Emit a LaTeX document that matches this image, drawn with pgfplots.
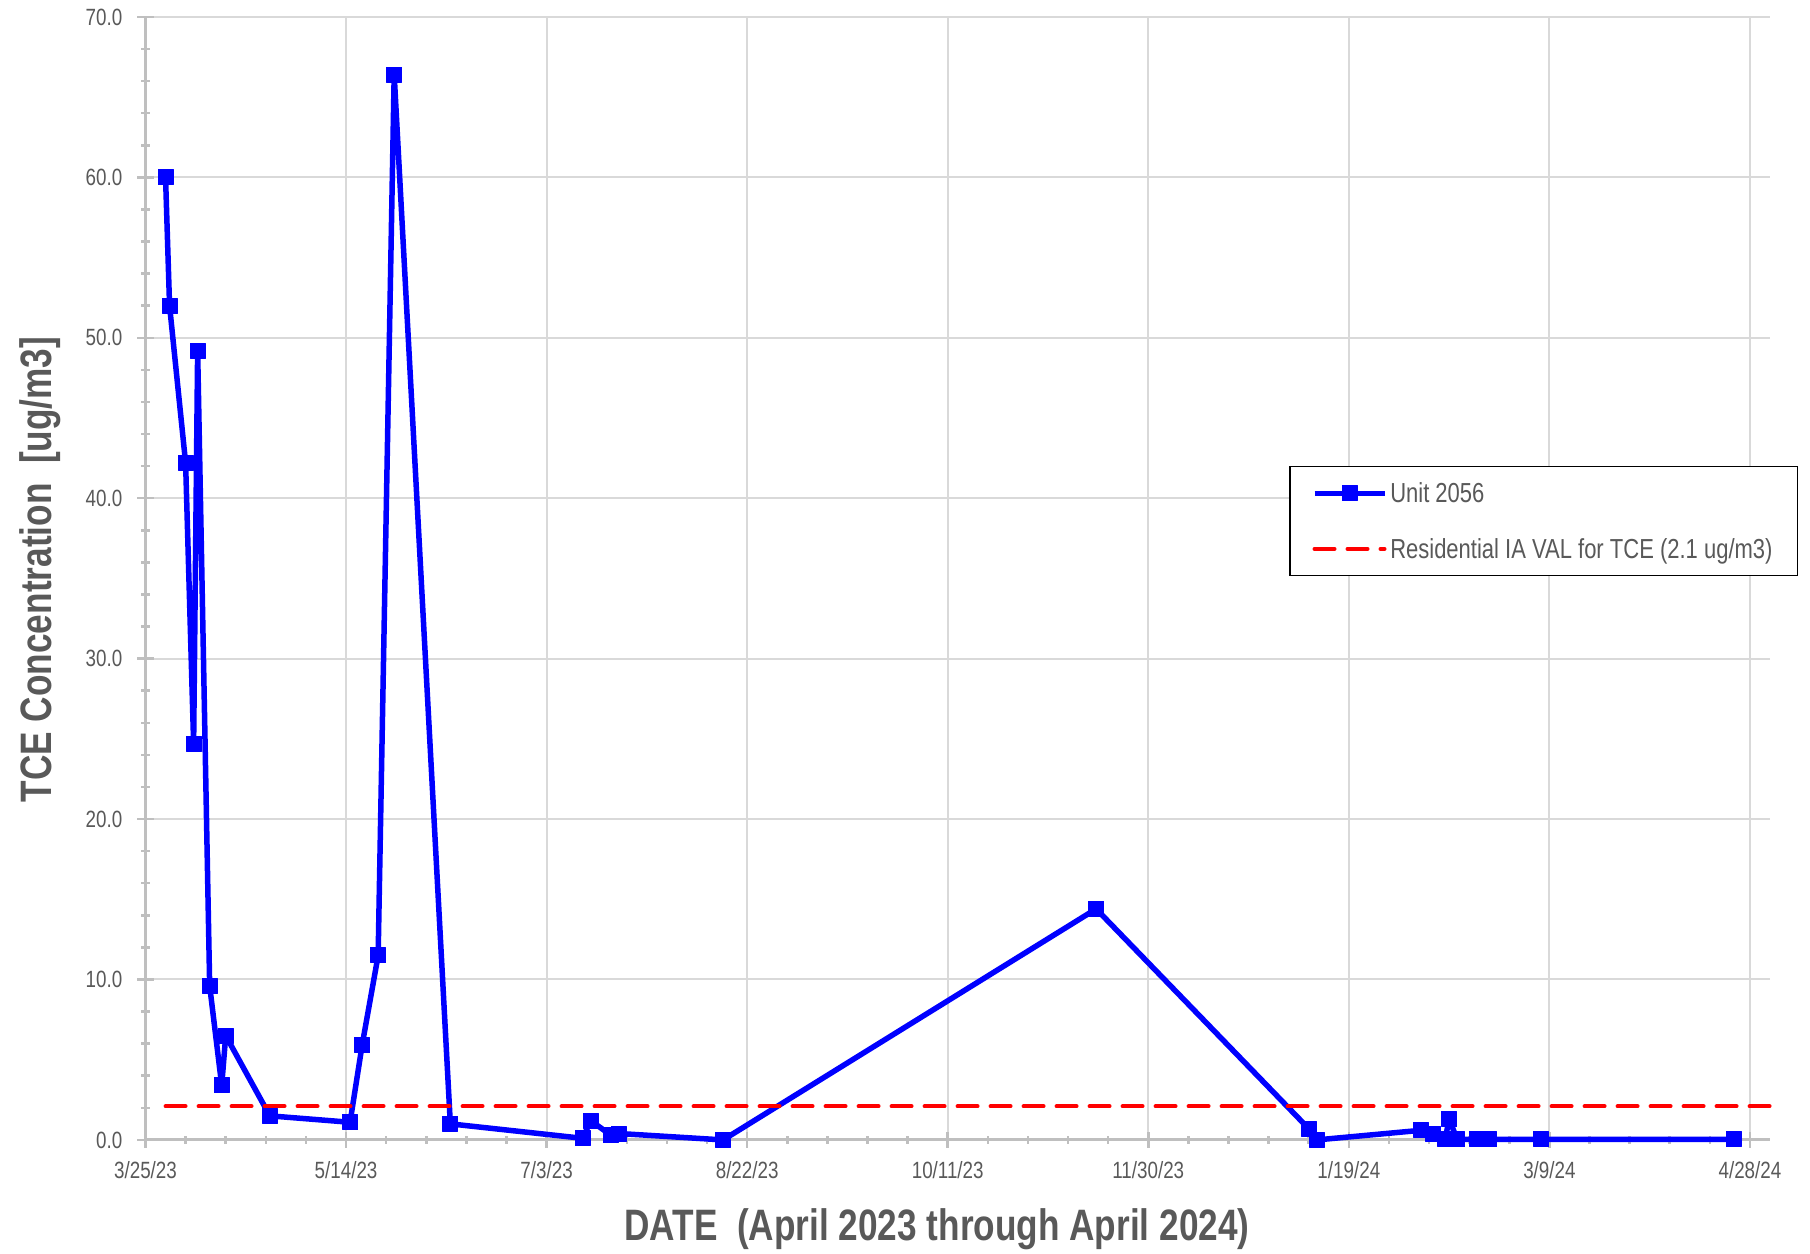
\documentclass[border=0pt]{standalone}
\usepackage{fontspec}
\setmainfont[FakeStretch=0.8]{Liberation Sans}
\usepackage{pgfplots}
\pgfplotsset{compat=1.18}
\definecolor{txt}{HTML}{595959}
\definecolor{axgray}{HTML}{BFBFBF}
\definecolor{gridgray}{HTML}{D9D9D9}

\begin{document}
\begin{tikzpicture}
\begin{axis}[
  name=ax,
  scale only axis, width=1624.5pt, height=1123pt,
  xmin=0, xmax=405, ymin=0, ymax=70,
  clip=false,
  axis x line*=bottom, axis y line*=left,
  axis line style={draw=axgray, line width=3pt, -},
  xtick={0,50,...,400},
  xticklabels={3/25/23,5/14/23,7/3/23,8/22/23,10/11/23,11/30/23,1/19/24,3/9/24,4/28/24},
  ytick={0,10,...,70},
  minor x tick num=4, minor y tick num=4,
  tick align=center, major tick length=16pt, minor tick length=8pt,
  tick style={draw=axgray, line width=2.5pt},
  grid=major, major grid style={draw=gridgray, line width=2pt},
  ticklabel style={font=\fontsize{23.5}{28}\selectfont, text=txt},
  xticklabel style={anchor=base, yshift=-31pt},
  yticklabel style={anchor=east, inner sep=0pt, xshift=-15pt,
    /pgf/number format/.cd, fixed, fixed zerofill, precision=1, assume math mode=true},
  xlabel={DATE\ \ (April 2023 through April 2024)},
  ylabel={TCE Concentration\ \ [ug/m3]},
  xlabel style={at={(rel axis cs:0.4872,-0.0899)}, anchor=base,
    font=\fontsize{44}{50}\selectfont\bfseries, text=txt},
  ylabel style={at={(rel axis cs:-0.0649,0.508)}, anchor=center,
    font=\fontsize{44}{50}\selectfont\bfseries, text=txt},
  legend style={at={(rel axis cs:0.7039,0.6002)}, anchor=north west,
    draw=black, line width=1.5pt, fill=white,
    font=\fontsize{27.5}{33}\selectfont, text=txt,
    inner xsep=22pt, inner ysep=13pt, row sep=28pt,
    nodes={inner sep=3pt}},
  legend cell align=left,
  legend image code/.code={\draw[mark repeat=2,mark phase=2,#1] plot coordinates {(0pt,0pt) (35pt,0pt) (70pt,0pt)};},
]
\addplot[color=blue, line width=5.5pt, line join=round, mark=square*, mark size=7.5pt,
  mark options={solid, line width=1pt}] coordinates {
  (5,60.0) (6,52.0) (10,42.2) (12,24.7) (13,49.2) (16,9.6) (19,3.4) (20,6.5)
  (31,1.5) (51,1.1) (54,5.9) (58,11.5) (62,66.4) (76,1.0)
  (109,0.1) (111,1.2) (116,0.3) (118,0.4) (144,0.0)
  (237,14.4) (290,0.7) (292,0.0)
  (318,0.6) (321,0.35) (324,0.03) (325,1.3) (327,0.03) (332,0.03) (335,0.03)
  (348,0.03) (396,0.03)
};
\addlegendentry{Unit 2056}
\addplot[color=red, line width=4pt, line cap=round, dash pattern=on 20pt off 13pt]
  coordinates {(5,2.1) (405,2.1)};
\addlegendentry{Residential IA VAL for TCE (2.1 ug/m3)}
\end{axis}
\pgfresetboundingbox
\path[use as bounding box] ([shift={(-145.5pt,-114pt)}]ax.south west) rectangle ([shift={(40pt,17pt)}]ax.north east);
\end{tikzpicture}
\end{document}
